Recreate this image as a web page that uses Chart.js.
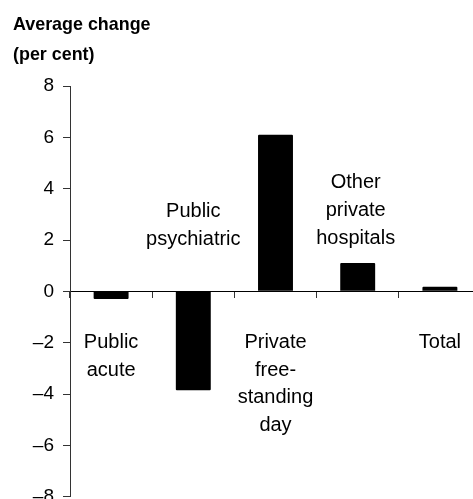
<!DOCTYPE html>
<html>
<head>
<meta charset="utf-8">
<script src="https://cdn.jsdelivr.net/npm/chart.js@4"></script>
<style>
  html, body { margin: 0; padding: 0; background: #fff; overflow: hidden; }
  #wrap { width: 473px; height: 499px; overflow: hidden; position: relative; }
  canvas { display: block; }
</style>
</head>
<body>
<div id="wrap"><canvas id="c" width="482" height="520"></canvas></div>
<script>
// ---- data ----
const categories = [
  ["Public", "acute"],
  ["Public", "psychiatric"],
  ["Private", "free-", "standing", "day"],
  ["Other", "private", "hospitals"],
  ["Total"]
];
const averageChange = [-0.3, -3.85, 6.1, 1.1, 0.18];
const yTicks = [-8, -6, -4, -2, 0, 2, 4, 6, 8];
const titleLines = ["Average change", "(per cent)"];

const FONT = '"Liberation Sans", Arial, Helvetica, sans-serif';

const titlePlugin = {
  id: 'titleText',
  afterDraw(chart) {
    const ctx = chart.ctx;
    ctx.save();
    ctx.fillStyle = '#000';
    ctx.font = 'bold 17.9px ' + FONT;
    ctx.textAlign = 'left';
    ctx.textBaseline = 'alphabetic';
    titleLines.forEach((t, i) => ctx.fillText(t, 13, 30 + i * 29.5));
    ctx.restore();
  }
};

const catLabelPlugin = {
  id: 'catLabels',
  afterDatasetsDraw(chart, args, opts) {
    const ctx = chart.ctx;
    const xs = chart.scales.x, ys = chart.scales.y;
    ctx.save();
    ctx.fillStyle = '#000';
    ctx.font = '20px ' + FONT;
    ctx.textAlign = 'center';
    ctx.textBaseline = 'alphabetic';
    categories.forEach((lines, i) => {
      const x = xs.getPixelForValue(i) + (opts.dx[i] || 0);
      const y0 = ys.getPixelForValue(opts.baselines[i]);
      lines.forEach((t, k) => ctx.fillText(t, x, y0 + k * opts.lineHeight));
    });
    ctx.restore();
  }
};

new Chart(document.getElementById('c'), {
  type: 'bar',
  data: {
    labels: categories.map(c => c.join(' ')),
    datasets: [{
      data: averageChange,
      backgroundColor: '#000',
      borderColor: '#000',
      borderWidth: 0,
      borderRadius: 1,
      categoryPercentage: 1.0,
      barPercentage: 0.425
    }]
  },
  options: {
    responsive: false,
    animation: false,
    devicePixelRatio: 1,
    layout: { padding: { top: 86, bottom: 23.3, left: 0, right: 1 } },
    plugins: {
      legend: { display: false },
      tooltip: { enabled: false },
      title: { display: false },
      catLabels: {
        baselines: [-2.2, 2.9, -2.2, 4.02, -2.2],
        dx: [0, 0, 0, -2, 0],
        lineHeight: 27.8
      }
    },
    scales: {
      x: {
        position: { y: 0 },
        offset: true,
        ticks: { display: false },
        grid: {
          display: true,
          offset: true,
          drawOnChartArea: false,
          drawTicks: true,
          tickLength: 6,
          color: '#333',
          lineWidth: 1
        },
        border: { display: true, color: '#000', width: 1 }
      },
      y: {
        min: -8,
        max: 8,
        afterFit(scale) { scale.width = 70; },
        afterBuildTicks(scale) { scale.ticks = yTicks.map(v => ({ value: v })); },
        ticks: {
          padding: 9,
          color: '#000',
          font: { family: FONT, size: 19 },
          callback: v => String(v).replace('-', '\u2013')
        },
        grid: {
          display: true,
          drawOnChartArea: false,
          drawTicks: true,
          tickLength: 7,
          color: '#333',
          lineWidth: 1
        },
        border: { display: true, color: '#333', width: 1 }
      }
    }
  },
  plugins: [titlePlugin, catLabelPlugin]
});
</script>
</body>
</html>
